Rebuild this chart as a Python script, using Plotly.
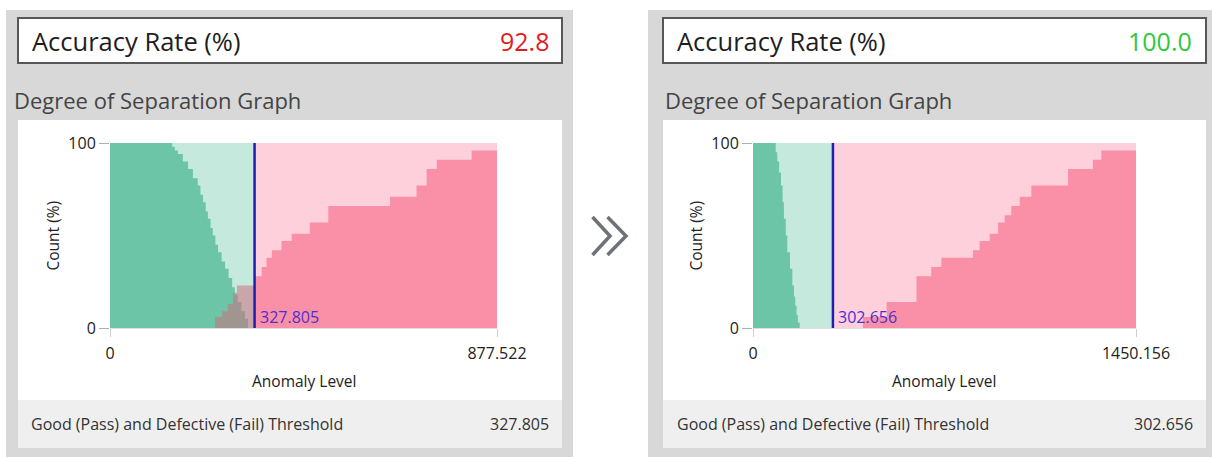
import plotly.graph_objects as go

W, H = 1212, 458

# ---------------- data: panel 1 (before) ----------------
p1_accuracy = "92.8"
p1_accuracy_color = "#e31b23"
p1_xmax = 877.522
p1_threshold = 327.805
p1_good_x = [0, 141, 147, 154, 165, 177, 188, 199, 205, 211, 217, 222, 228, 233, 239, 245, 253, 261, 269, 277, 283, 290, 298, 306, 313]
p1_good_y = [100, 98, 96, 94, 90, 86, 81, 77, 72, 68, 63, 59, 54, 50, 45, 41, 36, 32, 27, 22, 18, 14, 9, 5, 0]
p1_def_x = [0, 238, 254, 267, 279, 288, 329, 344, 355, 367, 389, 412, 453, 495, 635, 695, 718, 741, 820, 877.522]
p1_def_y = [0, 6, 9, 13, 19, 23, 28, 33, 38, 42, 47, 51, 57, 66, 71, 77, 86, 91, 96, 96]

# ---------------- data: panel 2 (after) ----------------
p2_accuracy = "100.0"
p2_accuracy_color = "#2fc83c"
p2_xmax = 1450.156
p2_threshold = 302.656
p2_good_x = [0, 86, 92, 99, 106, 112, 117, 124, 130, 140, 149, 155, 160, 165, 170, 177]
p2_good_y = [100, 95, 90, 84, 77, 68, 59, 50, 41, 32, 23, 17, 12, 7, 3, 0]
p2_def_x = [0, 416, 506, 619, 675, 713, 833, 858, 896, 928, 953, 978, 1010, 1054, 1193, 1287, 1319, 1450.156]
p2_def_y = [0, 6, 14, 28, 33, 38, 42, 47, 51, 57, 61, 66, 71, 77, 86, 91, 96, 96]

# ---------------- text ----------------
title_text = "Accuracy Rate (%)"
graph_title = "Degree of Separation Graph"
x_title = "Anomaly Level"
y_title = "Count (%)"
footer_text = "Good (Pass) and Defective (Fail) Threshold"

# ---------------- style ----------------
FONT = "Open Sans, Noto Sans, sans-serif"
C_GOOD = "#6cc5a7"
C_GOOD_BG = "#c5e9dd"
C_DEF = "#fa8fa8"
C_DEF_BG = "#fdd0dc"
C_DEF_OVER = "rgba(205,110,125,0.55)"
C_THR = "#1e1eb4"
C_THR_TXT = "#4a2fd0"
C_PANEL = "#d8d8d8"
C_FOOT = "#efefef"


def px(x):
    return x / W


def py(y):
    return 1 - y / H


panels = [
    dict(acc=p1_accuracy, acc_color=p1_accuracy_color, xmax=p1_xmax, thr=p1_threshold,
         gx=p1_good_x, gy=p1_good_y, dx=p1_def_x, dy=p1_def_y,
         gray=(6, 573), box=(18, 562), plot=(110, 497), deg_x=12, title_x=30, acc_r=551,
         foot_x=29, foot_r=551, ytitle_x=52),
    dict(acc=p2_accuracy, acc_color=p2_accuracy_color, xmax=p2_xmax, thr=p2_threshold,
         gx=p2_good_x, gy=p2_good_y, dx=p2_def_x, dy=p2_def_y,
         gray=(648, 1212), box=(663, 1206), plot=(753, 1136), deg_x=663, title_x=675, acc_r=1194,
         foot_x=675, foot_r=1195, ytitle_x=695),
]

PLOT_TOP, PLOT_BOT = 143, 328

fig = go.Figure()
shapes = []
annotations = []
layout_axes = {}


def ann(text, x, y, size, color="#222", xanchor="left", **kw):
    d = dict(text=text, xref="paper", yref="paper", x=px(x), y=py(y), xanchor=xanchor,
             yanchor="middle", showarrow=False, font=dict(family=FONT, size=size, color=color))
    d.update(kw)
    annotations.append(d)


for i, p in enumerate(panels):
    n = "" if i == 0 else str(i + 1)
    xa, ya = "x" + n, "y" + n
    thr = p["thr"]

    # split defect curve at threshold
    lo_x = [x for x in p["dx"] if x <= thr]
    lo_y = [y for x, y in zip(p["dx"], p["dy"]) if x <= thr]
    hi_x = [thr] + [x for x in p["dx"] if x > thr]
    hi_y = [lo_y[-1]] + [y for x, y in zip(p["dx"], p["dy"]) if x > thr]
    lo_x = lo_x + [thr]
    lo_y = lo_y + [lo_y[-1]]

    common = dict(mode="lines", line=dict(width=0), fill="tozeroy", hoverinfo="skip",
                  showlegend=False, xaxis=xa, yaxis=ya)
    fig.add_trace(go.Scatter(x=[0, thr], y=[100, 100], fillcolor=C_GOOD_BG, **common))
    fig.add_trace(go.Scatter(x=[thr, p["xmax"]], y=[100, 100], fillcolor=C_DEF_BG, **common))
    fig.add_trace(go.Scatter(x=p["gx"], y=p["gy"], fillcolor=C_GOOD, line_shape="hv", **common))
    fig.add_trace(go.Scatter(x=lo_x, y=lo_y, fillcolor=C_DEF_OVER, line_shape="hv", **common))
    fig.add_trace(go.Scatter(x=hi_x, y=hi_y, fillcolor=C_DEF, line_shape="hv", **common))
    fig.add_trace(go.Scatter(x=[thr, thr], y=[0, 100], mode="lines",
                             line=dict(color=C_THR, width=2.5), hoverinfo="skip",
                             showlegend=False, xaxis=xa, yaxis=ya))

    x0, x1 = p["plot"]
    layout_axes["xaxis" + n] = dict(
        domain=[px(x0), px(x1)], range=[0, p["xmax"]], anchor=ya, automargin=False,
        tickvals=[0, p["xmax"]], ticktext=["0", f"{p['xmax']:.3f}"],
        ticks="outside", ticklen=8, tickcolor="#cfcfcf", tickwidth=1,
        showline=True, linecolor="#e0e0e0", linewidth=1,
        showgrid=False, zeroline=False, ticklabelstandoff=3,
        tickfont=dict(family=FONT, size=16, color="#222"), fixedrange=True,
    )
    layout_axes["yaxis" + n] = dict(
        domain=[py(PLOT_BOT), py(PLOT_TOP)], range=[0, 100], anchor=xa, automargin=False,
        tickvals=[0, 100], ticks="outside", ticklen=10, tickcolor="#b0b0b0", tickwidth=1,
        showline=False, showgrid=False, zeroline=False,
        tickfont=dict(family=FONT, size=16, color="#222"), fixedrange=True,
    )

    # panel decorations
    g0, g1 = p["gray"]
    b0, b1 = p["box"]
    shapes.append(dict(type="rect", xref="paper", yref="paper", x0=px(g0), x1=px(g1),
                       y0=py(457), y1=py(10), fillcolor=C_PANEL, line=dict(width=0), layer="below"))
    shapes.append(dict(type="rect", xref="paper", yref="paper", x0=px(b0), x1=px(b1),
                       y0=py(63), y1=py(18), fillcolor="white", line=dict(color="#575757", width=2),
                       layer="below"))
    shapes.append(dict(type="rect", xref="paper", yref="paper", x0=px(b0), x1=px(b1),
                       y0=py(400), y1=py(120), fillcolor="white", line=dict(width=0), layer="below"))
    shapes.append(dict(type="rect", xref="paper", yref="paper", x0=px(b0), x1=px(b1),
                       y0=py(448), y1=py(400), fillcolor=C_FOOT, line=dict(width=0), layer="below"))

    ann(title_text, p["title_x"], 41, 25.5, "#1e1e1e")
    ann(p["acc"], p["acc_r"], 41, 25, p["acc_color"], xanchor="right")
    ann(graph_title, p["deg_x"], 100, 22, "#444")
    ann(x_title, (x0 + x1) / 2, 381, 15.5, "#222", xanchor="center")
    ann(y_title, p["ytitle_x"], (PLOT_TOP + PLOT_BOT) / 2, 15.5, "#222", xanchor="center", textangle=-90)
    ann(footer_text, p["foot_x"], 424, 16, "#333")
    ann(f"{thr:.3f}", p["foot_r"], 424, 16, "#333", xanchor="right")
    # threshold value label at the line
    annotations.append(dict(text=f"{thr:.3f}", xref=xa, yref=ya, x=thr, y=6, xanchor="left",
                            yanchor="middle", xshift=3, showarrow=False,
                            font=dict(family=FONT, size=16, color=C_THR_TXT)))

# chevron between panels
for (sx, tx) in [(592.5, 610), (607.5, 626)]:
    shapes.append(dict(type="path", xref="paper", yref="paper",
                       path=f"M {px(sx)} {py(217)} L {px(tx)} {py(236)} L {px(sx)} {py(255)}",
                       line=dict(color="#6e7276", width=3.5)))

fig.update_layout(
    width=W, height=H, autosize=False,
    margin=dict(l=0, r=0, t=0, b=0, pad=0, autoexpand=False),
    paper_bgcolor="white", plot_bgcolor="rgba(0,0,0,0)",
    shapes=shapes, annotations=annotations, showlegend=False,
    **layout_axes,
)

fig.write_html(
    "out.html",
    config={"displayModeBar": False},
    post_script="document.documentElement.style.margin='0';document.documentElement.style.overflow='hidden';"
                "document.body.style.margin='0';document.body.style.padding='0';document.body.style.overflow='hidden';",
)
